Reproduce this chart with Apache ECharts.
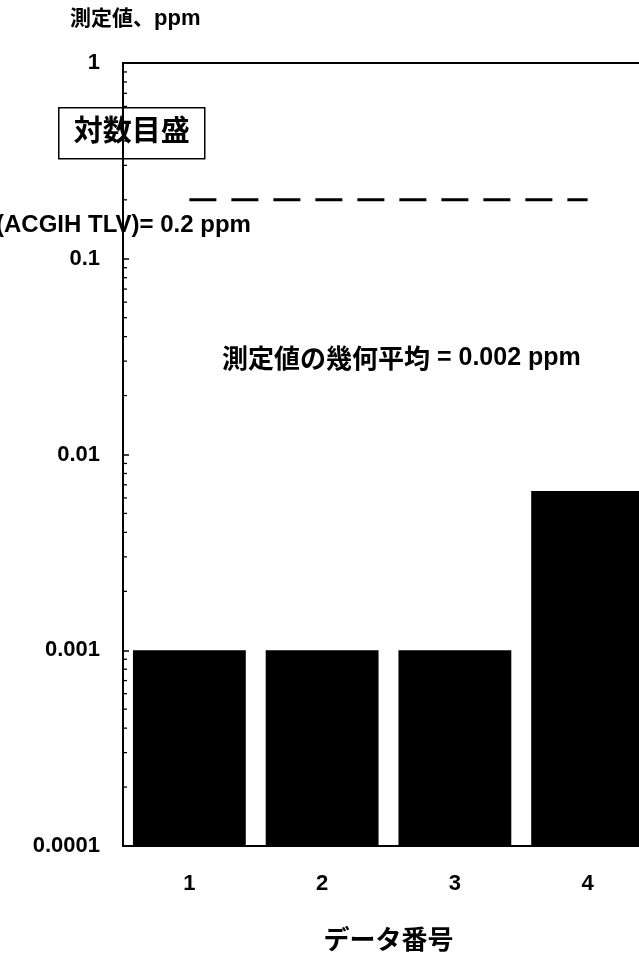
<!DOCTYPE html>
<html><head><meta charset="utf-8">
<script src="https://cdn.jsdelivr.net/npm/echarts@6/dist/echarts.min.js"></script>
<style>html,body{margin:0;padding:0;background:#fff}#c{width:639px;height:975px}</style>
</head><body><div id="c"></div>
<script>
const categories = ['1', '2', '3', '4'];
const measured = [0.001, 0.001, 0.001, 0.0065];
const tlv = [0.2, 0.2, 0.2, 0.2];
const yTicks = [0.0001, 0.001, 0.01, 0.1, 1];
const yTickLabels = ['0.0001', '0.001', '0.01', '0.1', '1'];
const minorTicks = [
  0.0002, 0.0003, 0.0004, 0.0005, 0.0006, 0.0007, 0.0008, 0.0009,
  0.002, 0.003, 0.004, 0.005, 0.006, 0.007, 0.008, 0.009,
  0.02, 0.03, 0.04, 0.05, 0.06, 0.07, 0.08, 0.09,
  0.2, 0.3, 0.4, 0.5, 0.6, 0.7, 0.8, 0.9
];
const yAxisTitle = ['測定値、', 'ppm'];
const scaleNote = '対数目盛';
const tlvNote = '(ACGIH TLV)= 0.2 ppm';
const meanNote = ['測定値の幾何平均', ' = 0.002 ppm'];
const xAxisTitle = 'データ番号';

const JP = '"Noto Sans CJK JP", sans-serif';
const LAT = '"Liberation Sans", Arial, sans-serif';

const chart = echarts.init(document.getElementById('c'), null, { renderer: 'canvas' });

function tickLabel(v) {
  for (let i = 0; i < yTicks.length; i++) {
    if (Math.abs(Math.log10(yTicks[i]) - Math.log10(v)) < 1e-6) return yTickLabels[i];
  }
  return '';
}

chart.setOption({
  animation: false,
  backgroundColor: '#fff',
  grid: {
    left: 123, top: 63, width: 531, height: 783, outerBoundsMode: 'none', containLabel: false,
    show: true, borderColor: '#000', borderWidth: 2, backgroundColor: 'transparent'
  },
  xAxis: {
    type: 'category', data: categories,
    axisLine: { lineStyle: { color: '#000', width: 2 } },
    axisTick: { show: false },
    axisLabel: { color: '#000', fontSize: 22, fontWeight: 'bold', fontFamily: LAT, margin: 27 },
    name: xAxisTitle, nameLocation: 'middle', nameGap: 80,
    nameTextStyle: { color: '#000', fontSize: 26, fontWeight: 'bold', fontFamily: JP }
  },
  yAxis: {
    type: 'log', logBase: 10, min: 0.0001, max: 1, startValue: 0.0001,
    axisLine: { show: true, lineStyle: { color: '#000', width: 2 } },
    axisTick: { show: true, inside: true, length: 6, lineStyle: { color: '#000', width: 1.5 } },
    axisLabel: { color: '#000', fontSize: 22, fontWeight: 'bold', fontFamily: LAT, margin: 23, formatter: tickLabel },
    splitLine: { show: false }
  },
  series: [
    {
      type: 'bar', data: measured, barCategoryGap: '15%',
      itemStyle: { color: '#000' }, z: 2
    },
    {
      type: 'line', data: tlv, symbol: 'none', z: 3,
      lineStyle: { color: '#000', width: 3, type: [27, 15] }
    },
    {
      type: 'custom', data: minorTicks.map(v => [0, v]), encode: { x: 0, y: 1 }, z: 4,
      renderItem: (params, api) => {
        const y = api.coord([0, api.value(1)])[1];
        const x0 = params.coordSys.x;
        return { type: 'line', shape: { x1: x0, y1: y, x2: x0 + 4, y2: y }, style: { stroke: '#000', lineWidth: 1.3 } };
      }
    }
  ],
  graphic: [
    {
      type: 'text', left: 70, top: 7, zlevel: 1,
      style: {
        text: '{a|' + yAxisTitle[0] + '}{b|' + yAxisTitle[1] + '}',
        rich: {
          a: { fontSize: 21, fontWeight: 'bold', fontFamily: JP, fill: '#000' },
          b: { fontSize: 22, fontWeight: 'bold', fontFamily: LAT, fill: '#000', padding: [3, 0, 0, 0] }
        }
      }
    },
    {
      type: 'group', left: 58, top: 107, zlevel: 1,
      children: [
        { type: 'rect', shape: { x: 0, y: 0, width: 146, height: 51 }, style: { fill: '#fff', stroke: '#000', lineWidth: 1.5 } },
        { type: 'text', x: 73, y: 22, style: { text: scaleNote, fontSize: 29, fontWeight: 'bold', fontFamily: JP, fill: '#000', align: 'center', verticalAlign: 'middle' } }
      ]
    },
    {
      type: 'text', left: -4, top: 213, zlevel: 1,
      style: { text: tlvNote, fontSize: 24, fontWeight: 'bold', fontFamily: LAT, fill: '#000' }
    },
    {
      type: 'text', left: 222, top: 345, zlevel: 1,
      style: {
        text: '{a|' + meanNote[0] + '}{b|' + meanNote[1] + '}',
        rich: {
          a: { fontSize: 26, fontWeight: 'bold', fontFamily: JP, fill: '#000' },
          b: { fontSize: 25, fontWeight: 'bold', fontFamily: LAT, fill: '#000' }
        }
      }
    }
  ]
});
</script>
</body></html>
